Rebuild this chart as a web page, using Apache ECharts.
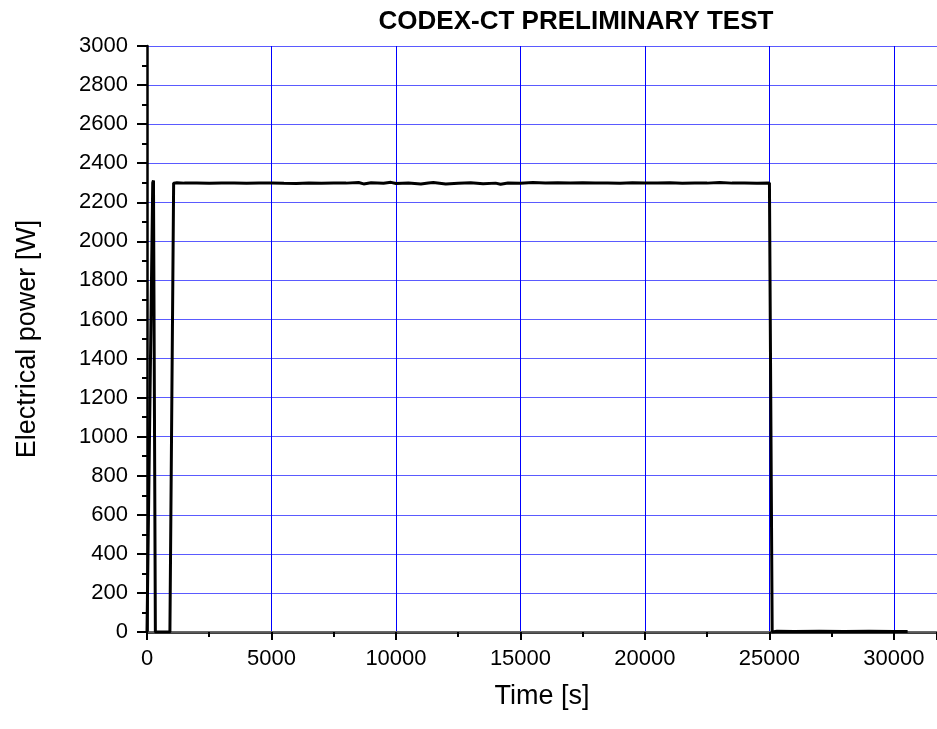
<!DOCTYPE html>
<html>
<head>
<meta charset="utf-8">
<script src="https://cdn.jsdelivr.net/npm/echarts@6/dist/echarts.min.js"></script>
<style>html,body{margin:0;padding:0;background:#fff;}#c{width:937px;height:729px;}</style>
</head>
<body>
<div id="c"></div>
<script>
// Start-up spikes (time [s], power [W])
const startTimes = [0, 60, 230, 260, 300, 330, 336, 920, 1070, 1200];
const startPower = [0, 600, 2300, 2312, 2308, 2302, 0, 0, 2298, 2300];
// Plateau samples
const plateauTimes = [1500,2000,2500,3000,3500,4000,4500,5000,5500,6000,6500,7000,7500,8000,8500,8700,9000,9500,9800,10000,10500,11000,11300,11500,12000,12500,13000,13500,14000,14200,14500,15000,15500,16000,16500,17000,17500,18000,18500,19000,19500,20000,20500,21000,21500,22000,22500,23000,23500,24000,24500,25000];
const plateauPower = [2298,2299,2297,2299,2298,2297,2298,2299,2297,2296,2298,2297,2299,2298,2301,2294,2300,2297,2302,2296,2299,2294,2299,2301,2294,2297,2300,2295,2298,2292,2299,2297,2301,2299,2300,2298,2300,2298,2299,2297,2300,2299,2298,2300,2297,2299,2298,2301,2298,2299,2297,2298];
// Shut-down and tail
const endTimes = [25080, 25110, 25300, 26000, 27000, 28000, 29000, 30000, 30550];
const endPower = [2297, 0, 4, 3, 4, 3, 4, 3, 3];

const data = [];
startTimes.forEach((t,i)=>data.push([t,startPower[i]]));
plateauTimes.forEach((t,i)=>data.push([t,plateauPower[i]]));
endTimes.forEach((t,i)=>data.push([t,endPower[i]]));

const chart = echarts.init(document.getElementById('c'), null, {renderer:'canvas'});
const font = 'Liberation Sans, Arial, sans-serif';
const plain = v => String(v);
chart.setOption({
  animation:false,
  backgroundColor:'#fff',
  title:{text:'CODEX-CT PRELIMINARY TEST', left:571, top:4, textAlign:'center',
    textStyle:{fontFamily:font, fontWeight:'bold', fontSize:26, color:'#000'}},
  grid:{left:147, top:46, width:790, height:586, containLabel:false, outerBoundsMode:'none'},
  xAxis:[{
    type:'value', min:0, max:31730, interval:5000, position:'bottom',
    name:'Time [s]', nameLocation:'middle', nameGap:51,
    nameTextStyle:{fontFamily:font, fontSize:27, color:'#000'},
    axisLine:{show:true, onZero:false, lineStyle:{color:'#000', width:2.5}},
    axisTick:{show:true, inside:false, length:8, lineStyle:{color:'#000', width:2}},
    minorTick:{show:true, splitNumber:2, length:5, lineStyle:{color:'#000', width:2}},
    axisLabel:{fontFamily:font, fontSize:22, color:'#000', margin:16, showMaxLabel:false, formatter:plain},
    splitLine:{show:true, lineStyle:{color:'#0000ff', width:1}}
  },{
    type:'value', min:0, max:31730, position:'top',
    axisLine:{show:true, lineStyle:{color:'#777', width:1.5}},
    axisTick:{show:false}, axisLabel:{show:false}, splitLine:{show:false}
  }],
  yAxis:{
    type:'value', min:0, max:3000, interval:200,
    name:'Electrical power [W]', nameLocation:'middle', nameGap:106, nameRotate:90,
    nameTextStyle:{fontFamily:font, fontSize:27, color:'#000'},
    axisLine:{show:true, lineStyle:{color:'#000', width:2.5}},
    axisTick:{show:true, inside:false, length:10, lineStyle:{color:'#000', width:2}},
    minorTick:{show:true, splitNumber:2, length:5, lineStyle:{color:'#000', width:2}},
    axisLabel:{fontFamily:font, fontSize:22, color:'#000', margin:19, formatter:plain},
    splitLine:{show:true, lineStyle:{color:'#5a5aff', width:1}}
  },
  series:[{
    type:'line', data:data, showSymbol:false, symbol:'none',
    lineStyle:{color:'#000', width:3}, clip:true
  }]
});
</script>
</body>
</html>
